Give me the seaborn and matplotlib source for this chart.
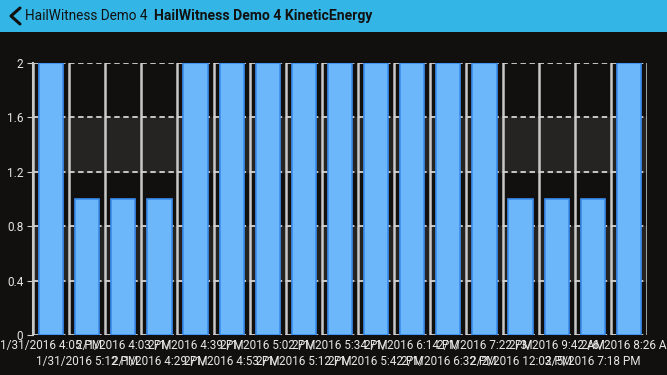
import numpy as np
import pandas as pd
import matplotlib
matplotlib.use('Agg')
import matplotlib.pyplot as plt
import seaborn as sns
from matplotlib.lines import Line2D
from matplotlib.patches import Rectangle

# data
times = ['1/31/2016 4:05 PM', '1/31/2016 5:12 PM', '2/1/2016 4:03 PM', '2/1/2016 4:29 PM',
         '2/1/2016 4:39 PM', '2/1/2016 4:53 PM', '2/1/2016 5:02 PM', '2/1/2016 5:12 PM',
         '2/1/2016 5:34 PM', '2/1/2016 5:42 PM', '2/1/2016 6:14 PM', '2/1/2016 6:32 PM',
         '2/1/2016 7:22 PM', '2/2/2016 12:03 PM', '2/3/2016 9:42 AM', '2/5/2016 7:18 PM',
         '2/6/2016 8:26 AM']
energy = [2, 1, 1, 1, 2, 2, 2, 2, 2, 2, 2, 2, 2, 1, 1, 1, 2]
yticks = [0, 0.4, 0.8, 1.2, 1.6, 2]
ytick_labels = ['0', '0.4', '0.8', '1.2', '1.6', '2']

df = pd.DataFrame({'time': times, 'energy': energy})

bg = '#12100f'
sns.set_style('dark')
plt.rcParams['font.family'] = ['Roboto', 'DejaVu Sans']

fig = plt.figure(figsize=(6.67, 3.75), dpi=100, facecolor=bg)
ax = fig.add_axes([33 / 667, 1 - 335 / 375, 614 / 667, 272 / 375])
ax.set_facecolor(bg)

# shaded bands
for lo, hi in [(0.4, 0.8), (1.2, 1.6)]:
    ax.axhspan(lo, hi, color='#262423', zorder=0)

sns.barplot(data=df, x='time', y='energy', color='#6cb6fa', saturation=1,
            width=0.67, edgecolor='#3b8ef0', linewidth=1.2, ax=ax, zorder=3)

ax.set_xlim(-0.5, len(times) - 0.5)
ax.set_ylim(0, 2)
ax.set_yticks(yticks)
ax.set_yticklabels(ytick_labels)
ax.set_xticks(range(len(times)))
ax.set_xticklabels([t if i % 2 == 0 else '\n' + t for i, t in enumerate(times)],
                   fontsize=8.5, color='#e6e6e6', linespacing=1.25)
ax.set_xticks(np.arange(-0.5, len(times)), minor=True)
ax.tick_params(axis='x', which='both', length=0, pad=3)
ax.tick_params(axis='y', length=4, color='#d0d0d0', labelsize=8.5, labelcolor='#e6e6e6', pad=3, left=True)
ax.set_xlabel('')
ax.set_ylabel('')

ax.grid(False)
ax.grid(which='minor', axis='x', color='#c8c8c8', linewidth=1.8, linestyle='-', zorder=1)
ax.grid(which='major', axis='y', color='#d4d4d4', linewidth=1.3, linestyle=(0, (3, 2)), zorder=2)
ax.set_axisbelow(True)
for s in ['top', 'right', 'bottom']:
    ax.spines[s].set_visible(False)
ax.spines['left'].set_color('#c8c8c8')
ax.spines['left'].set_linewidth(1.5)

# header bar
fig.patches.append(Rectangle((0, 1 - 32 / 375), 1, 32 / 375, transform=fig.transFigure,
                             facecolor='#33b5e5', edgecolor='none', zorder=0))
fig.lines.append(Line2D([20 / 667, 11 / 667, 20 / 667], [1 - 8 / 375, 1 - 16 / 375, 1 - 24 / 375],
                        transform=fig.transFigure, color='#111111', linewidth=2.2))
fig.text(25 / 667, 1 - 16 / 375, 'HailWitness Demo 4', fontsize=9.8, color='#111111',
         va='center', ha='left')
fig.text(154 / 667, 1 - 16 / 375, 'HailWitness Demo 4 KineticEnergy', fontsize=10.1,
         fontweight='bold', color='#111111', va='center', ha='left')

fig.savefig('out.png', dpi=100, facecolor=bg)
